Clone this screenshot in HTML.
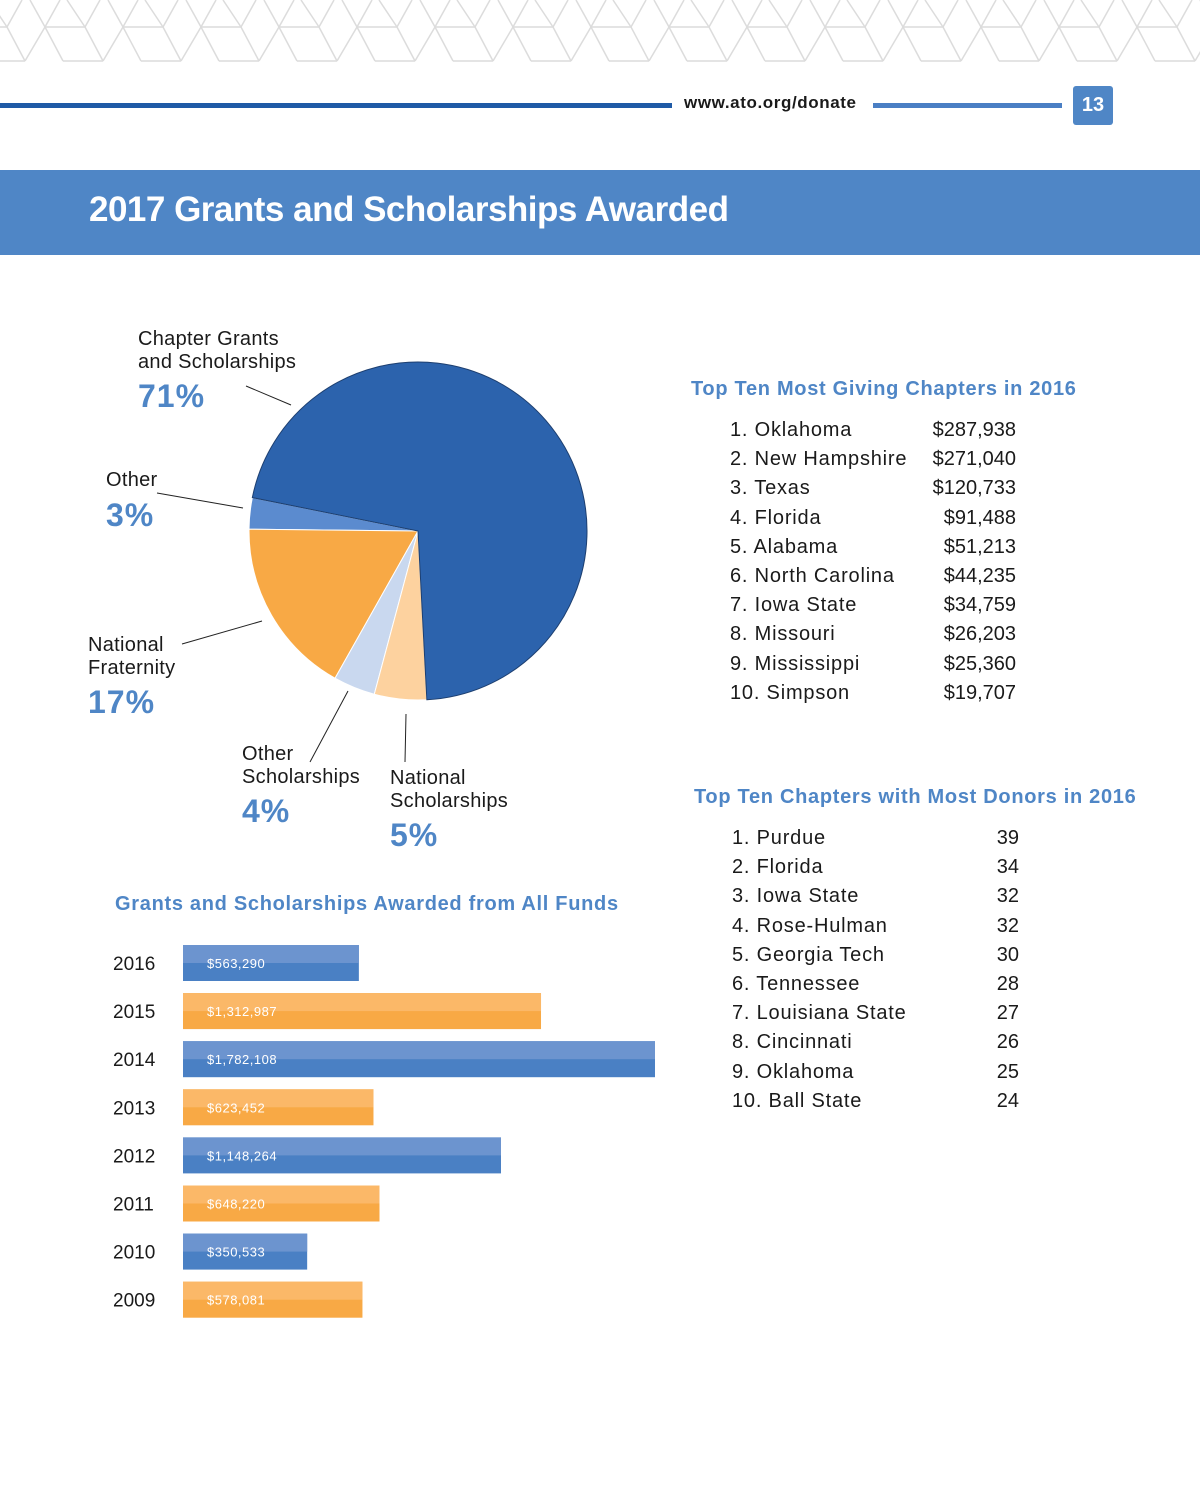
<!DOCTYPE html>
<html><head><meta charset="utf-8"><style>
body{margin:0;width:1200px;height:1500px;background:#fff;font-family:"Liberation Sans",sans-serif;position:relative;overflow:hidden}
.abs{position:absolute}
.t{color:#1a1a1a;font-size:20px;white-space:nowrap;letter-spacing:0.3px}
.h{color:#4f86c6;font-weight:bold;font-size:20px;white-space:nowrap;letter-spacing:0.7px}
.pct{color:#4f86c6;font-weight:bold;font-size:32px;letter-spacing:1px}
</style></head><body>
<svg class="abs" style="left:0;top:0" width="1200" height="65" id="pat"></svg>
<div class="abs" style="left:0;top:103px;width:672px;height:5px;background:#1f5aa6"></div>
<div class="abs" style="left:684px;top:93px;font-size:17px;font-weight:bold;color:#1a1a1a;letter-spacing:0.6px">www.ato.org/donate</div>
<div class="abs" style="left:873px;top:103px;width:189px;height:5px;background:#4a7fc4"></div>
<div class="abs" style="left:1073px;top:86px;width:40px;height:39px;background:#4f86c6;border-radius:3px;color:#fff;font-weight:bold;font-size:20px;text-align:center;line-height:39px">13</div>
<div class="abs" style="left:0;top:170px;width:1200px;height:85px;background:#4f86c6"></div>
<div class="abs" style="left:89px;top:190px;font-size:35px;font-weight:bold;color:#fff;letter-spacing:-0.5px">2017 Grants and Scholarships Awarded</div>

<svg class="abs" style="left:0;top:0" width="700" height="900" id="pie">
<g stroke="#222" stroke-width="1">
<line x1="246" y1="386" x2="291" y2="405"/>
<line x1="157" y1="493" x2="243" y2="508"/>
<line x1="182" y1="644" x2="262" y2="621"/>
<line x1="310" y1="762" x2="348" y2="691"/>
<line x1="405" y1="762" x2="406" y2="714"/>
</g>
</svg>
<div class="abs t" style="left:138px;top:328px;line-height:23px">Chapter Grants<br>and Scholarships</div>
<div class="abs pct" style="left:138px;top:378px">71%</div>
<div class="abs t" style="left:106px;top:469px">Other</div>
<div class="abs pct" style="left:106px;top:497px">3%</div>
<div class="abs t" style="left:88px;top:634px;line-height:23px">National<br>Fraternity</div>
<div class="abs pct" style="left:88px;top:684px">17%</div>
<div class="abs t" style="left:242px;top:743px;line-height:23px">Other<br>Scholarships</div>
<div class="abs pct" style="left:242px;top:793px">4%</div>
<div class="abs t" style="left:390px;top:767px;line-height:23px">National<br>Scholarships</div>
<div class="abs pct" style="left:390px;top:817px">5%</div>

<div class="abs h" style="left:115px;top:893px">Grants and Scholarships Awarded from All Funds</div>
<svg class="abs" style="left:0;top:930px" width="700" height="400" id="bars"></svg>

<div class="abs h" style="left:691px;top:378px">Top Ten Most Giving Chapters in 2016</div>
<div class="abs" id="giving" style="left:730px;top:419px"></div>
<div class="abs h" style="left:694px;top:786px">Top Ten Chapters with Most Donors in 2016</div>
<div class="abs" id="donors" style="left:732px;top:827px"></div>

<script>
const NS="http://www.w3.org/2000/svg";
// header pattern
const pat=document.getElementById('pat');
for(let k=-1;k<17;k++){const o=k*78;
 const segs=[[45,27,85,27],[45,27,30,0],[45,27,60,0],[45,27,25,61],[45,27,63,61],[85,27,100,0],[85,27,67,0],[85,27,103,61],[63,61,103,61]];
 segs.forEach(s=>{const l=document.createElementNS(NS,'line');l.setAttribute('x1',s[0]+o);l.setAttribute('y1',s[1]);l.setAttribute('x2',s[2]+o);l.setAttribute('y2',s[3]);l.setAttribute('stroke','#dcdcdc');l.setAttribute('stroke-width','1.5');pat.appendChild(l);});}

// pie data
const pieLabels=["Chapter Grants and Scholarships","National Scholarships","Other Scholarships","National Fraternity","Other"];
const pieValues=[71,5,4,17,3];
const pieColors=["#2c63ad","#fdd29f","#c9d8ef","#f8a945","#5b8bcf"];
const pie=document.getElementById('pie');
const cx=418,cy=531,r=169,start=281.4;
const tot=pieValues.reduce((a,b)=>a+b,0);
let ang=start;
function pt(a){const rad=a*Math.PI/180;return [cx+r*Math.sin(rad),cy-r*Math.cos(rad)];}
pieValues.forEach((v,i)=>{const sw=v/tot*360;const p1=pt(ang),p2=pt(ang+sw);
 const p=document.createElementNS(NS,'path');
 p.setAttribute('d',`M${cx},${cy} L${p1[0]},${p1[1]} A${r},${r} 0 ${sw>180?1:0} 1 ${p2[0]},${p2[1]} Z`);
 p.setAttribute('fill',pieColors[i]);p.setAttribute('stroke',i==0?'#1d3f70':'#fff');p.setAttribute('stroke-width','1');
 
 
 pie.insertBefore(p,pie.firstChild);ang+=sw;});

// bars
const years=["2016","2015","2014","2013","2012","2011","2010","2009"];
const amounts=[563290,1312987,1782108,623452,1148264,648220,350533,578081];
const amountLabels=["$563,290","$1,312,987","$1,782,108","$623,452","$1,148,264","$648,220","$350,533","$578,081"];
const bars=document.getElementById('bars');
const x0=183,baseW=39,spanW=433,maxV=1782108;
const xs=v=>baseW+v/maxV*spanW;
years.forEach((y,i)=>{const top=15+i*48.1;const blue=i%2==0;
 const g=document.createElementNS(NS,'g');
 
 
 const w=xs(amounts[i]);
 const r1=document.createElementNS(NS,'rect');r1.setAttribute('x',x0);r1.setAttribute('y',top);r1.setAttribute('width',w);r1.setAttribute('height',36);r1.setAttribute('fill',blue?'#4a80c4':'#f8a945');g.appendChild(r1);
 const r2=document.createElementNS(NS,'rect');r2.setAttribute('x',x0);r2.setAttribute('y',top);r2.setAttribute('width',w);r2.setAttribute('height',18);r2.setAttribute('fill',blue?'#6c94cf':'#fbb868');g.appendChild(r2);
 const t=document.createElementNS(NS,'text');t.setAttribute('x',207);t.setAttribute('y',top+23);t.setAttribute('fill','#fff');t.setAttribute('font-size','13');t.setAttribute('letter-spacing','0.5');t.setAttribute('font-family','Liberation Sans, sans-serif');t.textContent=amountLabels[i];g.appendChild(t);
 const yl=document.createElementNS(NS,'text');yl.setAttribute('x',113);yl.setAttribute('y',top+25);yl.setAttribute('fill','#1a1a1a');yl.setAttribute('font-size','19');yl.setAttribute('font-family','Liberation Sans, sans-serif');yl.textContent=y;
 
 
 bars.appendChild(yl);bars.appendChild(g);});

// lists
const givingNames=["1. Oklahoma","2. New Hampshire","3. Texas","4. Florida","5. Alabama","6. North Carolina","7. Iowa State","8. Missouri","9. Mississippi","10. Simpson"];
const givingAmts=["$287,938","$271,040","$120,733","$91,488","$51,213","$44,235","$34,759","$26,203","$25,360","$19,707"];
const donorNames=["1. Purdue","2. Florida","3. Iowa State","4. Rose-Hulman","5. Georgia Tech","6. Tennessee","7. Louisiana State","8. Cincinnati","9. Oklahoma","10. Ball State"];
const donorCounts=["39","34","32","32","30","28","27","26","25","24"];
function list(id,names,vals,rightX,prefix){const c=document.getElementById(id);
 names.forEach((n,i)=>{const row=document.createElement('div');
  
  
  row.style.cssText=`position:absolute;left:0;top:${i*29.2}px;width:${rightX}px;height:26px;font-size:20px;color:#1a1a1a;white-space:nowrap;letter-spacing:0.8px`;
  row.innerHTML=`<span style="position:absolute;left:0">${n}</span><span style="position:absolute;right:0;letter-spacing:0">${vals[i]}</span>`;
  c.appendChild(row);});}
list('giving',givingNames,givingAmts,286,'giving');
list('donors',donorNames,donorCounts,287,'donors');
</script>
</body></html>
